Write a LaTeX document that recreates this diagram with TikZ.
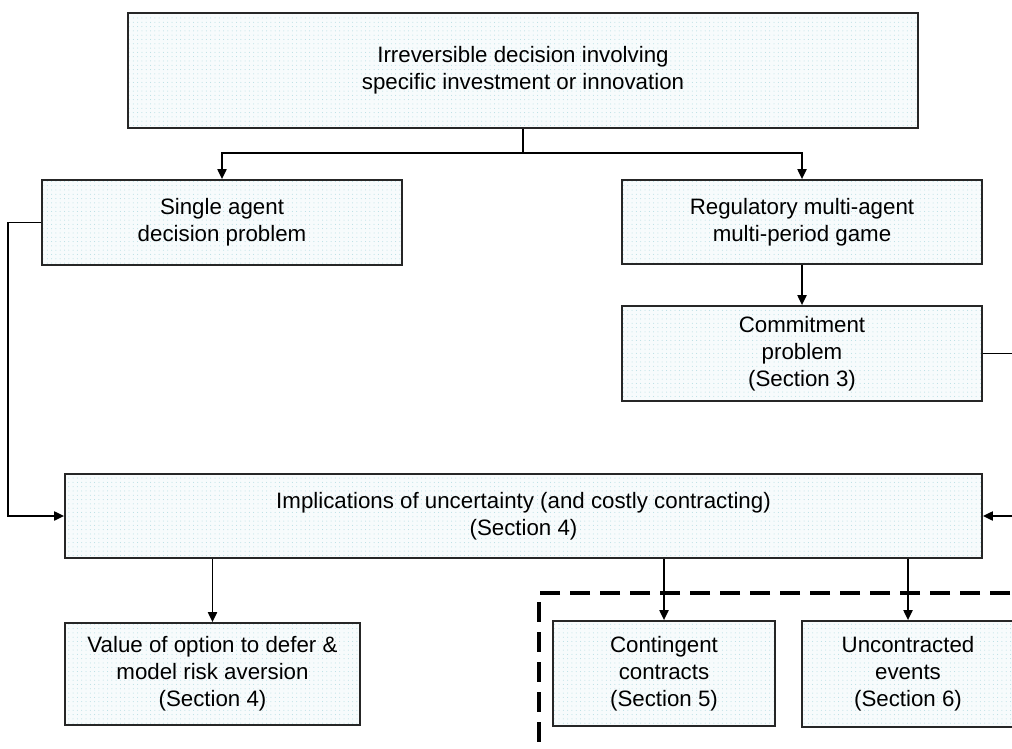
\documentclass[tikz,border=0pt]{standalone}
\usepackage{fontspec}
\setmainfont{Liberation Sans}
\usetikzlibrary{positioning, arrows.meta, patterns.meta}
\definecolor{tilefill}{RGB}{247,251,252}
\definecolor{tiledot}{RGB}{178,220,226}

\begin{document}
\begin{tikzpicture}[
  x=1pt, y=-1pt,
  box/.style={rectangle, draw=black!85, line width=1.7pt, inner sep=0pt, align=center,
    preaction={fill=tilefill}, pattern={Dots[distance=4.3pt, radius=0.5pt]}, pattern color=tiledot,
    font=\fontsize{22.3}{27}\selectfont},
  link/.style={line width=1.9pt, -{Triangle[length=10pt, width=9pt]}},
  frame/.style={line width=3.8pt, dash pattern=on 20pt off 10pt}
]
  \useasboundingbox (0,0) rectangle (1012,749);
  \clip (0,0) rectangle (1012,749);

  % top level
  \node[box, minimum width=790pt, minimum height=115pt] (irrev) at (523,70.5)
    {Irreversible decision involving\\specific investment or innovation};

  % the two branches
  \node[box, minimum width=360pt, minimum height=85pt] (single) at (222,222.5)
    {Single agent\\decision problem};
  \node[box, minimum width=360pt, minimum height=84pt] (regul) at (802,222)
    {Regulatory multi-agent\\multi-period game};
  \node[box, minimum width=360pt, minimum height=95pt] (commit) at (802,353.5)
    {Commitment\\problem\\(Section 3)};

  \coordinate (split) at (523,153);
  \draw[link] (irrev.south) -- (split) -| (regul.north);
  \draw[link] (split) -| (single.north);
  \draw[link] (regul) -- (commit);

  % uncertainty
  \node[box, minimum width=917pt, minimum height=84pt] (uncert) at (523.5,516)
    {Implications of uncertainty (and costly contracting)\\(Section 4)};
  \draw[link] (single.west) -- ++(-33,0) |- (uncert.west);
  \draw[link] (commit.east) -- ++(45,0) |- (uncert.east);

  % bottom row
  \node[box, minimum width=295pt, minimum height=102pt] (option) at (212.5,674)
    {Value of option to defer \&\\model risk aversion\\(Section 4)};
  \node[box, minimum width=222pt, minimum height=105pt] (conting) at (664,673.5)
    {Contingent\\contracts\\(Section 5)};
  \node[box, minimum width=212pt, minimum height=106pt] (uncontr) at (908,674)
    {Uncontracted\\events\\(Section 6)};

  \draw[frame] (1040,593) -- (539,593) -- (539,770);

  \draw[link] (uncert.south -| option.north) -- (option.north);
  \draw[link] (uncert.south -| conting.north) -- (conting.north);
  \draw[link] (uncert.south -| uncontr.north) -- (uncontr.north);
\end{tikzpicture}
\end{document}
